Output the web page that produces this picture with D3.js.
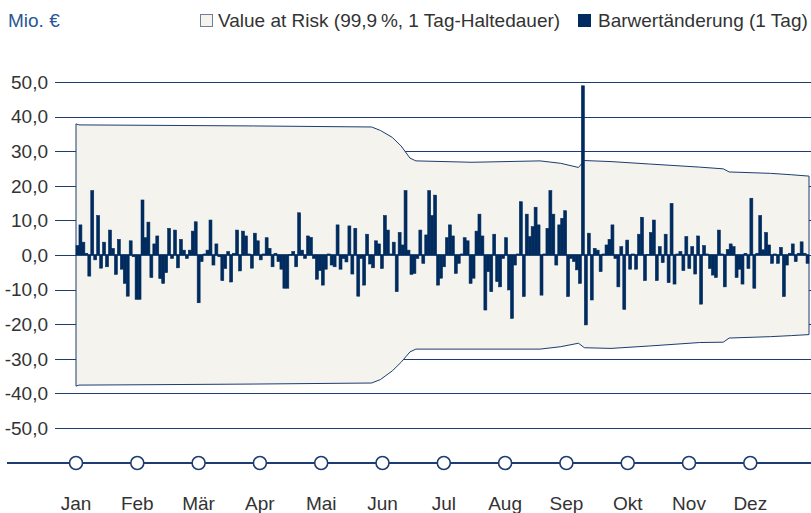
<!DOCTYPE html>
<html>
<head>
<meta charset="utf-8">
<script src="https://cdnjs.cloudflare.com/ajax/libs/d3/7.8.5/d3.min.js"></script>
<style>
    body { margin: 0; background: #fff; }
    svg text { font-family: "Liberation Sans", Arial, sans-serif; }
</style>
</head>
<body>
<div id="chart"></div>
<script>
(function(){
    "use strict";

    var months = ["Jan", "Feb", "Mär", "Apr", "Mai", "Jun", "Jul", "Aug", "Sep", "Okt", "Nov", "Dez"];
    var yTicks = [50, 40, 30, 20, 10, 0, -10, -20, -30, -40, -50];

    // Barwertänderung (1 Tag), Mio. EUR, one value per trading day
    var changes = [
        2.7, 8.7, 3.7, 0.5, -6.1, 18.6, -1.4, 11.4, -3.8, 3.7, -3.4, 7.2, 1.9, -5.6, 4.5, -4.1, -8.2, -11.9, 4.1, -0.5, -12.8, -12.8, 15.9, 5, 9.5, -6.5, 3.2, 5.5, -6.8, -8.2,
        -5.1, 7.7, -1, 7.2, -3.7, 4.5, 1.4, -1, 1.4, 6.9, 9.6, -13.8, -1.9, 0.3, 1.4, 10.1, -2.9, 3.2, -0.5, -7.4, -3.9, 1, -7.8, 0.5, 7.2, -4.6, 6.9, 5.5, 0.3, -3.8, 6.3,
        4.1, -1.4, 0.3, 5, 1.9, -3.4, 0.5, -1.9, -4.1, -9.6, -9.6, 0.2, 1, -3.4, 12.2, 1.4, -1, 5.5, 5.1, -1, -7, -4.5, -8.7, -4.1, 0.3, -2.9, -3.4, 8.7, -4.1,
        -1, -2, 8.4, -5.5, 7.7, -11.9, -1, -8.7, 6, -2.6, -3.7, 4.1, 3.2, -3.9, 11.4, 7.2, 0.3, 3.7, -10.6, 6.5, 2.9, 18.6, 1.4, -5.6, -5.3, -1, 7.2, -2.4, 5.8, 18.6, 11.4,
        17.3, -8.7, -6.7, -3.4, 5, 8.7, 5.5, -5.3, -2.4, 0.3, 5, 4.1, -8.2, -6.7, 6.9, 11.8, 5.5, -15.9, -4.8, -10.6, 6, -7.7, -9.2, -1, 5, -10.1, -18.3, -2.9, 0.3, 15.4, -12,
        11.8, 5.3, 8.2, 13.8, 8.7, -11.6, 0.3, 7.7, 18.6, 11.8, -2.9, 8.7, 10.6, 12.8, -12, -1, -1.9, -4.3, -8.2, 48.9, -20.2, 6.3, -13, 1.9, 1.4, -4.8, 0.3, 2.9, 4.5, 8.7,
        -1, -9.2, 2.4, -15.7, 4.3, -4.1, 0.3, -4.1, 6, 10.9, -7.4, 0.2, 6.5, 10.1, -7.4, 2.4, -2.2, 6, -8, 14.9, -8.4, 0.3, 1, -4.5, 5.3, -3.9, 2.4, -5.5, 5.5, -14.2, 2.7,
        0.3, -3.9, -5.8, -6.5, 7.2, 0.3, -9.2, 1.6, 3.2, 2.4, -6.5, -4.1, -8.4, 0.5, -3.9, 16.4, -9.6, 0.5, 11.4, 1.5, 6.5, 2.9, -2.4, 0.3, -2.4, 2.2, -12, -2.9, 0.5, 3.2, -1.9, 0.5, 3.8, 0.5, -2.4
    ];

    // Value at Risk band (99,9 %), breakpoints by trading day
    var varDays  = [0, 1, 22, 60, 100, 103, 107, 110, 113, 115, 134, 157, 164, 170, 172, 181, 194, 211, 219, 221, 235, 242, 248];
    var varUpper = [37.9, 37.6, 37.5, 37.3, 37.0, 36.0, 34.0, 31.5, 28.0, 27.2, 26.8, 27.2, 26.5, 25.3, 27.3, 27.0, 26.3, 25.4, 24.9, 24.0, 23.6, 23.2, 22.8];
    var varLower = [-37.9, -37.6, -37.5, -37.3, -37.0, -36.0, -33.5, -31.0, -28.0, -27.2, -27.2, -27.2, -26.5, -25.5, -26.8, -27.0, -26.3, -25.3, -25.2, -24.0, -23.6, -23.3, -23.0];

    var navy = "#002b5e",
        lineCol = "#1d3c70",
        textCol = "#333333",
        fontSize = "19px";

    var width = 811, height = 513;

    var svg = d3.select("#chart").append("svg")
        .attr("width", width)
        .attr("height", height);

    // scales
    var x = d3.scaleLinear().domain([0, changes.length]).range([76, 809]);
    var y = d3.scaleLinear().domain([-50, 50]).range([428, 82]);
    var xMonth = d3.scaleLinear().domain([0, 12]).range([76, 811.6]);

    var de = d3.formatLocale({decimal: ",", thousands: ".", grouping: [3], currency: ["", " €"], minus: "-"});
    var fmt = de.format(".1f");

    // grid lines
    svg.append("g").selectAll("line")
        .data(yTicks)
        .enter().append("line")
        .attr("x1", 55).attr("x2", width)
        .attr("y1", function(d) { return Math.round(y(d)) + 0.5; })
        .attr("y2", function(d) { return Math.round(y(d)) + 0.5; })
        .attr("stroke", lineCol)
        .attr("stroke-width", 1);

    // y labels
    svg.append("g").selectAll("text")
        .data(yTicks)
        .enter().append("text")
        .attr("x", 48)
        .attr("y", function(d) { return y(d); })
        .attr("dy", "0.36em")
        .attr("text-anchor", "end")
        .attr("fill", textCol)
        .style("font-size", fontSize)
        .text(function(d) { return fmt(d); });

    // VaR band
    var band = varDays.map(function(d, i) { return {day: d, hi: varUpper[i], lo: varLower[i]}; });
    var area = d3.area()
        .x(function(d) { return x(d.day); })
        .y0(function(d) { return y(d.lo); })
        .y1(function(d) { return y(d.hi); });

    svg.append("path")
        .datum(band)
        .attr("d", area)
        .attr("fill", "#f4f3ed")
        .attr("stroke", lineCol)
        .attr("stroke-width", 1);

    // zero line
    svg.append("line")
        .attr("x1", x(0)).attr("x2", x(changes.length))
        .attr("y1", y(0)).attr("y2", y(0))
        .attr("stroke", navy)
        .attr("stroke-width", 1.5);

    // bars
    var bw = x(1) - x(0);
    svg.append("g").selectAll("rect")
        .data(changes)
        .enter().append("rect")
        .attr("x", function(d, i) { return x(i); })
        .attr("width", bw)
        .attr("y", function(d) { return y(Math.max(0, d)); })
        .attr("height", function(d) { return Math.abs(y(d) - y(0)); })
        .attr("fill", navy)
        .attr("stroke", navy)
        .attr("stroke-width", 0.6);

    // month axis
    svg.append("line")
        .attr("x1", 7).attr("x2", width)
        .attr("y1", 463).attr("y2", 463)
        .attr("stroke", lineCol)
        .attr("stroke-width", 2);

    svg.append("g").selectAll("circle")
        .data(months)
        .enter().append("circle")
        .attr("cx", function(d, i) { return xMonth(i); })
        .attr("cy", 463)
        .attr("r", 6.5)
        .attr("fill", "#fff")
        .attr("stroke", lineCol)
        .attr("stroke-width", 1.6);

    svg.append("g").selectAll("text")
        .data(months)
        .enter().append("text")
        .attr("x", function(d, i) { return xMonth(i); })
        .attr("y", 510)
        .attr("text-anchor", "middle")
        .attr("fill", textCol)
        .style("font-size", fontSize)
        .text(function(d) { return d; });

    // unit + legend
    svg.append("text")
        .attr("x", 8).attr("y", 27)
        .attr("fill", "#2a5696")
        .style("font-size", fontSize)
        .text("Mio. €");

    svg.append("rect")
        .attr("x", 200.5).attr("y", 14.5)
        .attr("width", 12).attr("height", 12)
        .attr("fill", "#f4f3ed")
        .attr("stroke", "#6f7f9a")
        .attr("stroke-width", 1);
    svg.append("text")
        .attr("x", 218).attr("y", 27)
        .attr("fill", textCol)
        .style("font-size", fontSize)
        .text("Value at Risk (99,9\u2009%, 1 Tag-Haltedauer)");

    svg.append("rect")
        .attr("x", 578).attr("y", 14)
        .attr("width", 13).attr("height", 13)
        .attr("fill", navy);
    svg.append("text")
        .attr("x", 598).attr("y", 27)
        .attr("fill", textCol)
        .style("font-size", fontSize)
        .text("Barwertänderung (1 Tag)");
})();
</script>
</body>
</html>
